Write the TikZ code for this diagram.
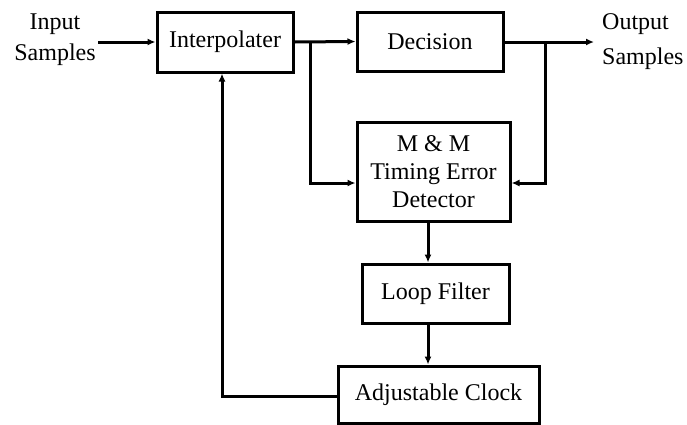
\documentclass[tikz,border=0pt]{standalone}
\usepackage{fontspec}
\setmainfont{Liberation Serif}
\usetikzlibrary{arrows.meta}
\begin{document}
\begin{tikzpicture}[x=1pt,y=-1pt,
  blk/.style={draw,line width=3pt,inner sep=0pt,align=center,
    font=\fontsize{24}{28}\selectfont},
  lbl/.style={inner sep=0pt,font=\fontsize{24}{31}\selectfont},
  conn/.style={line width=3pt},
  arr/.style={conn,-{Latex[length=8pt,width=7pt]}}]
\useasboundingbox (0,0) rectangle (687,424);
\node[blk,minimum width=136pt,minimum height=60pt] (ip) at (225,42) {Interpolater};
\node[blk,minimum width=146pt,minimum height=59pt] (dc) at (430,41.5) {Decision};
\node[blk,minimum width=153pt,minimum height=99pt] (mm) at (433.5,171.5) {M \& M\\Timing Error\\Detector};
\node[blk,minimum width=147pt,minimum height=59pt] (lf) at (435.5,293.5) {Loop Filter};
\node[blk,minimum width=201pt,minimum height=57pt] (ac) at (438.5,394.5) {Adjustable Clock};
\node[lbl,align=center] (in) at (55,40) {Input\\Samples};
\node[lbl,align=left,anchor=west,font=\fontsize{24}{35}\selectfont] (out) at (602,42) {Output\\Samples};
\coordinate (inE) at (98,42);
\coordinate (outW) at (594,42);
\coordinate (b1) at (310,42);
\coordinate (b1d) at (310,183);
\coordinate (b2) at (545,42);
\coordinate (b2d) at (545,183);
\coordinate (v) at (428,0);
\coordinate (fb) at (222,396);
\draw[arr] (inE) -- (ip.west);
\draw[arr] (ip.east) -- (dc.west);
\draw[arr] (dc.east |- outW) -- (outW);
\draw[arr] (b1) -- (b1d) -- (mm.west |- b1d);
\draw[arr] (b2) -- (b2d) -- (mm.east |- b2d);
\draw[arr] (v |- mm.south) -- (v |- lf.north);
\draw[arr] (v |- lf.south) -- (v |- ac.north);
\draw[arr] (ac.west |- fb) -- (fb) -- (fb |- ip.south);
\end{tikzpicture}
\end{document}
